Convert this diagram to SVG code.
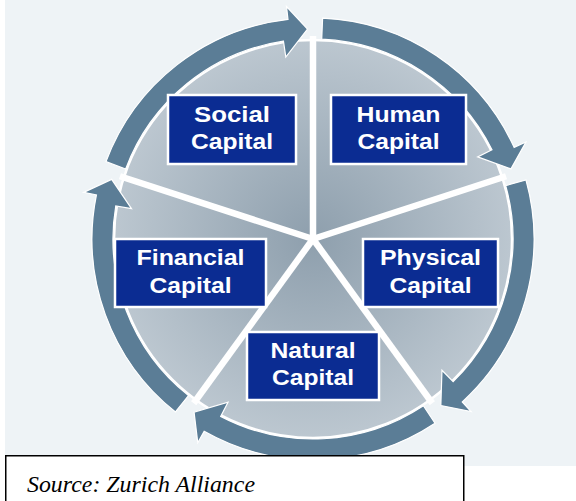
<svg xmlns="http://www.w3.org/2000/svg" xmlns:xlink="http://www.w3.org/1999/xlink" width="576" height="501" viewBox="0 0 576 501">
  <style>
    .box { fill: #0b2c92; stroke: #ffffff; stroke-width: 2.5; }
    .lbl { fill: #ffffff; font-family: "Liberation Sans", Arial, sans-serif; font-weight: bold; font-size: 22.5px; text-anchor: middle; }
    .arrow { fill: #5b7d96; stroke: #ffffff; stroke-width: 1.2; stroke-linejoin: miter; }
    .div { stroke: #ffffff; stroke-width: 6.5; }
    .src { font-family: "Liberation Serif", "Times New Roman", serif; font-style: italic; font-size: 23px; fill: #000000; }
  </style>
  <defs>
    <radialGradient id="pieGrad" gradientUnits="userSpaceOnUse" cx="313" cy="239" r="199">
      <stop offset="0" stop-color="#8e9fad"/>
      <stop offset="1" stop-color="#bcc7d0"/>
    </radialGradient>
    <path id="arrowShape" d="M 322.60 18.21 A 221 221 0 0 1 514.11 147.36 L 525.95 141.96 L 510.95 168.90 L 477.67 156.90 L 491.99 149.76 A 200 200 0 0 0 321.72 39.19 Z"/>
  </defs>

  <rect x="0" y="0" width="576" height="501" fill="#ffffff"/>
  <rect x="5" y="0" width="571" height="466" fill="#eef3f6"/>

  <g id="pie">
    <circle cx="313" cy="239" r="199" fill="url(#pieGrad)" stroke="#ffffff" stroke-width="2.5"/>
  </g>

  <g id="connectors">
    <g id="dividers">
      <line class="div" x1="313" y1="239" x2="313" y2="36"/>
      <line class="div" x1="313" y1="239" x2="313" y2="36" transform="rotate(72 313 239)"/>
      <line class="div" x1="313" y1="239" x2="313" y2="36" transform="rotate(144 313 239)"/>
      <line class="div" x1="313" y1="239" x2="313" y2="36" transform="rotate(216 313 239)"/>
      <line class="div" x1="313" y1="239" x2="313" y2="36" transform="rotate(288 313 239)"/>
    </g>
    <use class="arrow" xlink:href="#arrowShape" href="#arrowShape"/>
    <use class="arrow" xlink:href="#arrowShape" href="#arrowShape" transform="rotate(72 313 239)"/>
    <use class="arrow" xlink:href="#arrowShape" href="#arrowShape" transform="rotate(144 313 239)"/>
    <use class="arrow" xlink:href="#arrowShape" href="#arrowShape" transform="rotate(216 313 239)"/>
    <use class="arrow" xlink:href="#arrowShape" href="#arrowShape" transform="rotate(288 313 239)"/>
  </g>

  <g id="social">
    <rect class="box" x="168" y="95" width="128" height="69"/>
    <text class="lbl" x="232" y="122" textLength="76" lengthAdjust="spacingAndGlyphs">Social</text>
    <text class="lbl" x="232" y="149" textLength="82" lengthAdjust="spacingAndGlyphs">Capital</text>
  </g>
  <g id="human">
    <rect class="box" x="331" y="95" width="135" height="69"/>
    <text class="lbl" x="398.5" y="122" textLength="84" lengthAdjust="spacingAndGlyphs">Human</text>
    <text class="lbl" x="398.5" y="149" textLength="82" lengthAdjust="spacingAndGlyphs">Capital</text>
  </g>
  <g id="financial">
    <rect class="box" x="115" y="239" width="151" height="68"/>
    <text class="lbl" x="190.5" y="265" textLength="108" lengthAdjust="spacingAndGlyphs">Financial</text>
    <text class="lbl" x="190.5" y="293" textLength="82" lengthAdjust="spacingAndGlyphs">Capital</text>
  </g>
  <g id="physical">
    <rect class="box" x="363" y="239" width="135" height="68"/>
    <text class="lbl" x="430.5" y="265" textLength="101" lengthAdjust="spacingAndGlyphs">Physical</text>
    <text class="lbl" x="430.5" y="293" textLength="82" lengthAdjust="spacingAndGlyphs">Capital</text>
  </g>
  <g id="natural">
    <rect class="box" x="247" y="332" width="132" height="68"/>
    <text class="lbl" x="313" y="358" textLength="85" lengthAdjust="spacingAndGlyphs">Natural</text>
    <text class="lbl" x="313" y="385" textLength="82" lengthAdjust="spacingAndGlyphs">Capital</text>
  </g>

  <g id="source">
    <rect x="5.75" y="455.75" width="458" height="50" fill="#ffffff" stroke="#000000" stroke-width="1.5"/>
    <text class="src" x="27" y="492" textLength="228" lengthAdjust="spacingAndGlyphs">Source: Zurich Alliance</text>
  </g>
</svg>
